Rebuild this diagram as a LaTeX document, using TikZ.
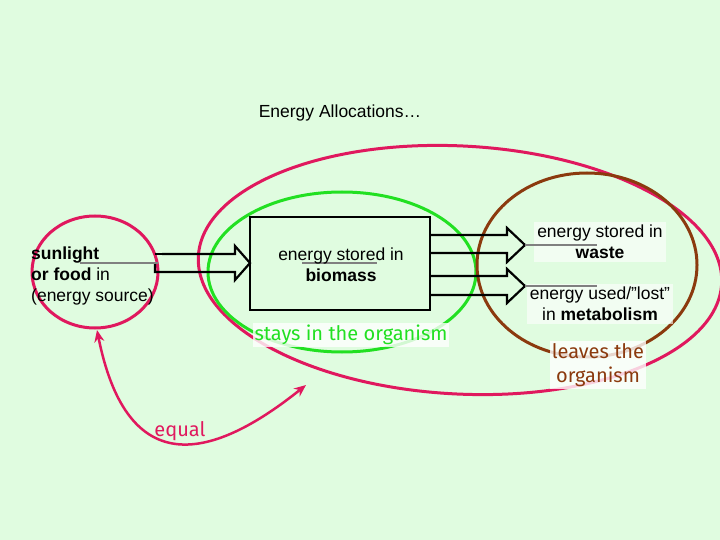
\documentclass[tikz,border=0pt]{standalone}
\usepackage{fontspec}
\setmainfont{Liberation Sans}
\newfontfamily\comic{Fira Sans}
\usetikzlibrary{arrows.meta}
\definecolor{bg}{HTML}{E0FCE0}
\definecolor{mag}{HTML}{E0185E}
\definecolor{grn}{HTML}{22E022}
\definecolor{brn}{HTML}{8B3A0E}
\begin{document}
\begin{tikzpicture}[x=1pt,y=-1pt,
  txt/.style={font=\fontsize{17.5}{21}\selectfont,align=center,inner sep=1pt},
  lbl/.style={font=\comic\fontsize{20}{24}\selectfont,align=center,fill=white,fill opacity=0.8,text opacity=1,inner sep=2pt},
  ell/.style={line width=3pt},
  arr/.style={line width=2.2pt,black},
  gl/.style={gray,line width=1.2pt}]
\fill[bg] (0,0) rectangle (720,540);
\useasboundingbox (0,0) rectangle (720,540);
\node[txt] (title) at (340,113) {Energy Allocations…};
% ellipses
\draw[mag,ell] (95,272) ellipse [x radius=63,y radius=56];
\draw[mag,ell,rotate around={-3:(460,270)}] (460,270) ellipse [x radius=262,y radius=124];
\draw[grn,ell] (342,272) ellipse [x radius=134,y radius=80];
\draw[brn,ell] (587,265) ellipse [x radius=110,y radius=92];
% box
\node[draw,line width=2pt,minimum width=180pt,minimum height=93pt,inner sep=0] (box) at (340,263.5) {};
% left arrow
\draw[arr] (162,254) -- (235,254) -- (235,246) -- (250,263) -- (235,280) -- (235,272) -- (155,272) -- (155,263);
\draw[arr] (155,254) -- (162,254);
% right arrows
\draw[arr] (430,235) -- (507,235) -- (507,228) -- (525,245) -- (507,262) -- (507,253) -- (430,253);
\draw[arr] (430,276) -- (507,276) -- (507,269) -- (525,286) -- (507,303) -- (507,295) -- (430,295);
% texts
\node[txt,fill=white,fill opacity=0.6,text opacity=1,inner sep=3pt] (waste) at (600,242) {energy stored in\\\textbf{waste}};
\node[txt,fill=white,fill opacity=0.6,text opacity=1,inner sep=3pt] (meta) at (600,304) {energy used/”lost”\\in \textbf{metabolism}};
% gray lines
\draw[gl] (80,263) -- (158,263);
\draw[gl] (302,263) -- (377,263);
\draw[gl] (525,245) -- (597,245);
\draw[gl] (525,286) -- (597,286);
\node[txt,align=left,anchor=west] (src) at (30,276) {\textbf{sunlight}\\\textbf{or food} in\\(energy source)};
\node[txt] (bio) at (341,265) {energy stored in\\\textbf{biomass}};
\node[lbl,text=grn] (stays) at (351,335) {stays in the organism};
\node[lbl,text=brn] (leaves) at (598,365) {leaves the\\organism};
\node[font=\comic\fontsize{20}{24}\selectfont,text=mag] (eq) at (180,431) {equal};
\coordinate (a) at (97,330);
\coordinate (b) at (306,385);
\draw[mag,line width=2.5pt,{Stealth[length=12pt,width=10pt]}-{Stealth[length=12pt,width=10pt]}] (a) .. controls (125,470) and (200,470) .. (b);
\end{tikzpicture}
\end{document}
